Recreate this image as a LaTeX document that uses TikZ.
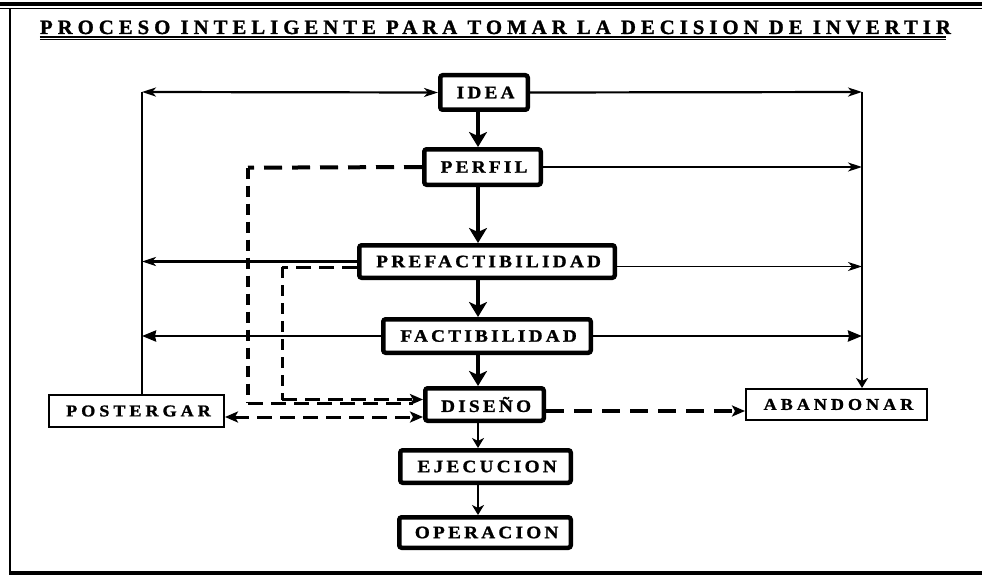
\documentclass[tikz,border=0pt]{standalone}
\usepackage{fontspec}
\usepackage{graphicx}
\setmainfont{Liberation Serif}
\newfontfamily\lblfont[LetterSpace=18.5,FakeStretch=1.1,FakeBold=1.2]{Liberation Serif}
\newfontfamily\lblfontb[LetterSpace=24,FakeStretch=1.1,FakeBold=1.2]{Liberation Serif}
\newfontfamily\ttlfont[LetterSpace=24,FakeBold=1.2]{Liberation Serif}
\usetikzlibrary{arrows.meta}
\newcommand\lbl[1]{{\lblfont\bfseries\fontsize{17.5pt}{20pt}\selectfont #1\kern-0.185em}}
\newcommand\lblb[1]{{\lblfontb\bfseries\fontsize{16.5pt}{19pt}\selectfont #1\kern-0.24em}}
\tikzset{
  thintip/.tip={Stealth[length=14pt,width=9pt,inset=4pt]},
  filltip/.tip={Stealth[length=14pt,width=11pt,inset=1pt]},
  bigtip/.tip={Stealth[length=15pt,width=18pt,inset=4pt]},
  midtip/.tip={Stealth[length=10pt,width=12pt,inset=3pt]},
  dtip/.tip={Stealth[length=13pt,width=11pt,inset=3pt]},
  box/.style={draw, line width=4.5pt, rounded corners=2.5pt, inner sep=0pt, fill=white},
  sbox/.style={draw, line width=2pt, inner sep=0pt, fill=white},
  dashA/.style={line width=4pt, dash pattern=on 18pt off 10pt},
  dashV/.style={line width=3.5pt, dash pattern=on 11pt off 7pt},
  dashC/.style={line width=3pt, dash pattern=on 15pt off 8pt},
}
\begin{document}
\begin{tikzpicture}[x=1pt,y=-1pt]
\useasboundingbox (0,0) rectangle (982,575);
% frame
\draw[line width=4.5pt] (0,4.2) -- (982,4.2);
\draw[line width=1.3pt] (0,8.7) -- (982,8.7);
\draw[line width=2.5pt] (10,8) -- (10,573);
\draw[line width=4.5pt] (8.75,573) -- (982,573);
% title
\node[inner sep=0pt, anchor=base] (title) at (493,34)
  {\resizebox{906pt}{13.5pt}{\ttlfont\bfseries\fontsize{20pt}{23pt}\selectfont PROCESO INTELIGENTE PARA TOMAR LA DECISION DE INVERTIR\kern-0.24em}};
\draw[line width=2pt] ([yshift=-3pt]title.base west) -- ([yshift=-3pt]title.base east);
\draw[line width=1pt] ([yshift=-5.8pt]title.base west) -- ([yshift=-5.8pt]title.base east);
% nodes
\node[box, minimum width=87.5pt, minimum height=34.5pt] (idea) at (484,92.5) {\lbl{IDEA}};
\node[box, minimum width=116.5pt, minimum height=35.5pt] (perfil) at (482.5,167) {\lbl{PERFIL}};
\node[box, minimum width=255.5pt, minimum height=32.5pt] (prefact) at (487,261.5) {\lbl{PREFACTIBILIDAD}};
\node[box, minimum width=207.5pt, minimum height=33.5pt] (fact) at (487,336) {\lbl{FACTIBILIDAD}};
\node[box, minimum width=118.5pt, minimum height=32.5pt] (diseno) at (484.5,404.5) {\lbl{DISEÑO}};
\node[box, minimum width=170.5pt, minimum height=32.5pt] (ejec) at (485.5,466.5) {\lbl{EJECUCION}};
\node[box, minimum width=171.5pt, minimum height=30.5pt] (oper) at (485,532.5) {\lbl{OPERACION}};
\node[sbox, minimum width=175pt, minimum height=32pt] (post) at (136.5,411) {\lblb{POSTERGAR}};
\node[sbox, minimum width=181pt, minimum height=31pt] (aban) at (836.5,404.5) {\lblb{ABANDONAR}};
% coordinates
\coordinate (L) at (142,92);
\coordinate (R) at (862,92);
\coordinate (S) at (478,0);
% left / right lines
\draw[line width=2.2pt, thintip-thintip] (L) -- (idea.west);
\draw[line width=1.2pt] (L) -- (post.north -| L);
\draw[line width=2.2pt, -thintip] (idea.east) -- (R);
\draw[line width=2.5pt, -midtip] (R) -- (R |- aban.north);
\draw[line width=1.6pt, -thintip] (perfil.east) -- (perfil.east -| R);
\draw[line width=2.7pt, -thintip] (prefact.west) -- (prefact.west -| L);
\draw[line width=1.6pt, -thintip] ([yshift=-5pt]prefact.east) -- ([yshift=-5pt]prefact.east -| R);
\draw[line width=2.7pt, -filltip] (fact.west) -- (fact.west -| L);
\draw[line width=2.7pt, -filltip] (fact.east) -- (fact.east -| R);
% spine
\draw[line width=4.5pt, -bigtip] (idea.south -| S) -- (perfil.north -| S);
\draw[line width=4.5pt, -bigtip] (perfil.south -| S) -- (prefact.north -| S);
\draw[line width=4.5pt, -bigtip] (prefact.south -| S) -- (fact.north -| S);
\draw[line width=4pt, -bigtip] (fact.south -| S) -- (diseno.north -| S);
\draw[line width=2.8pt, -midtip] (diseno.south -| S) -- (ejec.north -| S);
\draw[line width=2.8pt, -midtip] (ejec.south -| S) -- (oper.north -| S);
% dashed
\coordinate (D1) at (248,167.7);
\coordinate (D2) at (248,403);
\coordinate (E1) at (282,267);
\coordinate (E2) at (282,399.5);
\draw[dashA] (perfil.west) -- (D1);
\draw[dashV] (D1) -- (D2);
\draw[dashC, shorten >=10pt] (D2) -- (diseno.west |- D2);
\draw[dashC] ([yshift=-5.5pt]prefact.west) -- (E1);
\draw[dashV, line width=3pt] (E1) -- (E2);
\draw[dashC, -dtip] (E2) -- (diseno.west |- E2);
\draw[dashC, dtip-dtip] ([yshift=-6pt]post.east) -- ([yshift=-12.5pt]diseno.west);
\draw[dashA, -dtip] ([yshift=-6.5pt]diseno.east) -- ([yshift=-6.5pt]aban.west);
\end{tikzpicture}
\end{document}
